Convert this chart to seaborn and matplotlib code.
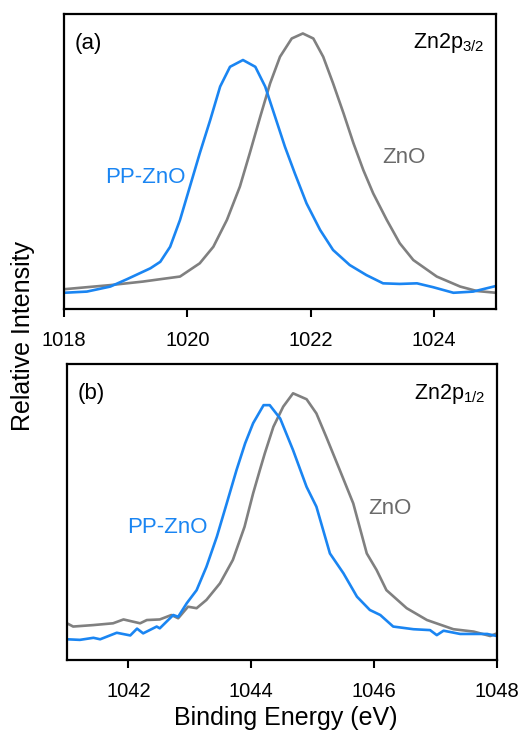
import matplotlib
matplotlib.use("Agg")
import matplotlib.pyplot as plt
import seaborn as sns
import pandas as pd

# ---------------- data ----------------
# Panel (a): Zn2p3/2
a_zno_x = [1018.0, 1018.75, 1019.28, 1019.56, 1019.88, 1020.20, 1020.42, 1020.64, 1020.85,
           1021.01, 1021.18, 1021.34, 1021.50, 1021.69, 1021.87, 1022.04, 1022.20, 1022.36,
           1022.53, 1022.69, 1022.85, 1023.01, 1023.23, 1023.44, 1023.66, 1024.04, 1024.42,
           1024.69, 1025.0]
a_zno_y = [0.067, 0.081, 0.093, 0.101, 0.110, 0.155, 0.211, 0.302, 0.415,
           0.528, 0.652, 0.765, 0.855, 0.917, 0.934, 0.917, 0.855, 0.765,
           0.663, 0.562, 0.471, 0.392, 0.302, 0.223, 0.166, 0.110, 0.076,
           0.061, 0.055]

a_pp_x = [1018.0, 1018.37, 1018.75, 1019.02, 1019.40, 1019.56, 1019.72, 1019.88, 1020.04,
          1020.20, 1020.37, 1020.53, 1020.69, 1020.90, 1021.10, 1021.26, 1021.42, 1021.58,
          1021.74, 1021.93, 1022.15, 1022.36, 1022.63, 1022.90, 1023.17, 1023.44, 1023.72,
          1023.98, 1024.31, 1024.63, 1025.0]
a_pp_y = [0.055, 0.059, 0.076, 0.101, 0.138, 0.160, 0.211, 0.302, 0.415,
          0.528, 0.641, 0.754, 0.821, 0.844, 0.821, 0.754, 0.652, 0.550,
          0.460, 0.358, 0.268, 0.200, 0.149, 0.115, 0.087, 0.085, 0.087,
          0.074, 0.055, 0.059, 0.078]

# Panel (b): Zn2p1/2
b_zno_x = [1041.0, 1041.10, 1041.43, 1041.75, 1041.92, 1042.19, 1042.30, 1042.51, 1042.70,
           1042.81, 1042.97, 1043.11, 1043.27, 1043.49, 1043.70, 1043.89, 1044.03, 1044.14,
           1044.22, 1044.36, 1044.52, 1044.68, 1044.90, 1045.06, 1045.22, 1045.44, 1045.66,
           1045.88, 1046.04, 1046.20, 1046.53, 1046.86, 1047.29, 1047.62, 1047.89, 1048.0]
b_zno_y = [0.124, 0.113, 0.118, 0.124, 0.137, 0.124, 0.135, 0.137, 0.152,
           0.141, 0.180, 0.175, 0.203, 0.259, 0.338, 0.450, 0.563, 0.642,
           0.698, 0.788, 0.856, 0.901, 0.881, 0.833, 0.754, 0.642, 0.529,
           0.360, 0.304, 0.236, 0.175, 0.135, 0.104, 0.096, 0.081, 0.090]

b_pp_x = [1041.0, 1041.21, 1041.43, 1041.54, 1041.81, 1042.03, 1042.14, 1042.24, 1042.46,
          1042.51, 1042.73, 1042.81, 1042.95, 1043.11, 1043.27, 1043.44, 1043.60, 1043.76,
          1043.90, 1044.03, 1044.20, 1044.30, 1044.47, 1044.68, 1044.90, 1045.06, 1045.28,
          1045.50, 1045.72, 1045.93, 1046.10, 1046.31, 1046.64, 1046.91, 1047.02, 1047.13,
          1047.40, 1047.84, 1048.0]
b_pp_y = [0.070, 0.068, 0.075, 0.070, 0.092, 0.083, 0.106, 0.090, 0.113,
          0.107, 0.152, 0.146, 0.192, 0.236, 0.315, 0.417, 0.529, 0.642,
          0.732, 0.800, 0.861, 0.861, 0.816, 0.709, 0.585, 0.518, 0.360,
          0.293, 0.214, 0.169, 0.152, 0.113, 0.104, 0.101, 0.084, 0.099,
          0.088, 0.088, 0.081]

a_ticks = [1018, 1020, 1022, 1024]
b_ticks = [1042, 1044, 1046, 1048]
series_names = ["PP-ZnO", "ZnO"]

BLUE = "#1a85f2"
GRAY = "#808080"
GRAY_TXT = "#6a6a6a"

# ---------------- style ----------------
sns.set_style("white")
plt.rcParams["font.family"] = ["Liberation Sans", "DejaVu Sans"]
plt.rcParams["mathtext.fontset"] = "custom"
plt.rcParams["mathtext.rm"] = "Liberation Sans"
plt.rcParams["mathtext.it"] = "Liberation Sans"

fig = plt.figure(figsize=(5.24, 7.31), dpi=100)
W, H = 524, 731
ax_a = fig.add_axes([64 / W, 1 - 309 / H, 432 / W, 295 / H])
ax_b = fig.add_axes([67 / W, 1 - 660 / H, 430 / W, 296 / H])


def draw(ax, pp_x, pp_y, zn_x, zn_y, xlim, ticks, tag, sub, pp_pos, zn_pos):
    df_pp = pd.DataFrame({"E": pp_x, "I": pp_y})
    df_zn = pd.DataFrame({"E": zn_x, "I": zn_y})
    sns.lineplot(data=df_zn, x="E", y="I", ax=ax, color=GRAY, lw=1.9,
                 estimator=None, sort=False)
    sns.lineplot(data=df_pp, x="E", y="I", ax=ax, color=BLUE, lw=1.9,
                 estimator=None, sort=False)
    ax.set_xlim(*xlim)
    ax.set_ylim(0, 1)
    ax.set_xticks(ticks)
    ax.set_xticklabels([str(t) for t in ticks])
    ax.set_yticks([])
    ax.set_xlabel("")
    ax.set_ylabel("")
    for s in ax.spines.values():
        s.set_visible(True)
        s.set_color("black")
        s.set_linewidth(1.6)
    ax.tick_params(axis="x", direction="out", length=5.8, width=1.5,
                   labelsize=14.5, pad=10, colors="black", bottom=True)
    ax.text(0.025, 0.90, tag, transform=ax.transAxes, fontsize=16,
            ha="left", va="center", color="black")
    ax.text(0.972, 0.90, "Zn2p$_{" + sub + "}$", transform=ax.transAxes,
            fontsize=15.5, ha="right", va="center", color="black")
    ax.text(pp_pos[0], pp_pos[1], series_names[0], transform=ax.transAxes,
            fontsize=16, ha="center", va="center", color=BLUE)
    ax.text(zn_pos[0], zn_pos[1], series_names[1], transform=ax.transAxes,
            fontsize=16, ha="center", va="center", color=GRAY_TXT)


draw(ax_a, a_pp_x, a_pp_y, a_zno_x, a_zno_y, (1018, 1025), a_ticks,
     "(a)", "3/2", (0.188, 0.447), (0.786, 0.512))
draw(ax_b, b_pp_x, b_pp_y, b_zno_x, b_zno_y, (1041, 1048), b_ticks,
     "(b)", "1/2", (0.234, 0.446), (0.75, 0.513))

fig.text(23 / W, 1 - 336 / H, "Relative Intensity", rotation=90,
         fontsize=18, ha="center", va="center", color="black")
fig.text(286 / W, 1 - 725 / H, "Binding Energy (eV)", fontsize=18,
         ha="center", va="baseline", color="black")

fig.savefig("out.png", dpi=100)
